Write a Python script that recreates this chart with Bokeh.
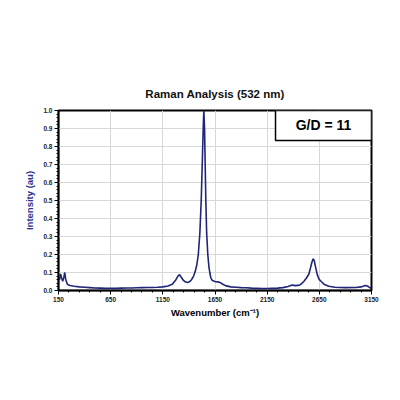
from bokeh.plotting import figure
from bokeh.models import FixedTicker, Range1d, Label, BoxAnnotation, ColumnDataSource, CustomJSTickFormatter
from bokeh.embed import file_html
from bokeh.resources import INLINE

# Raman spectrum (wavenumber cm^-1, normalised intensity)
wavenumber = [150, 160, 170, 180, 190, 200, 210, 220, 235, 260, 300, 350, 400, 450, 500,
              550, 600, 650, 700, 750, 800, 850, 900, 950, 1000, 1050, 1100, 1150, 1200,
              1240, 1270, 1295, 1310, 1325, 1345, 1365, 1385, 1405, 1425, 1445, 1460, 1475,
              1490, 1505, 1518, 1530, 1538, 1543, 1550, 1556, 1562, 1570, 1581, 1592, 1600,
              1610, 1625, 1650, 1675, 1700, 1725, 1750, 1800, 1850, 1900, 1950, 2000, 2050,
              2100, 2150, 2200, 2250, 2300, 2350, 2390, 2420, 2460, 2480, 2501, 2525, 2549,
              2565, 2580, 2591, 2600, 2612, 2630, 2648, 2668, 2700, 2740, 2800, 2900, 3000,
              3050, 3090, 3110, 3130, 3150]
intensity = [0.068, 0.06, 0.092, 0.07, 0.052, 0.07, 0.10, 0.06, 0.035, 0.028, 0.024, 0.02,
             0.018, 0.016, 0.014, 0.013, 0.012, 0.012, 0.012, 0.013, 0.014, 0.014, 0.015,
             0.016, 0.017, 0.017, 0.018, 0.02, 0.025, 0.035, 0.055, 0.08, 0.088, 0.075,
             0.058, 0.048, 0.044, 0.048, 0.06, 0.08, 0.105, 0.14, 0.2, 0.32, 0.5, 0.75, 0.92,
             1.0, 0.9, 0.7, 0.5, 0.32, 0.2, 0.13, 0.1, 0.07, 0.055, 0.05, 0.048, 0.044,
             0.035, 0.027, 0.02, 0.018, 0.016, 0.015, 0.013, 0.012, 0.011, 0.011, 0.012,
             0.013, 0.016, 0.022, 0.03, 0.027, 0.03, 0.038, 0.05, 0.068, 0.09, 0.125, 0.16,
             0.176, 0.168, 0.135, 0.088, 0.062, 0.05, 0.033, 0.024, 0.018, 0.016, 0.017,
             0.02, 0.028, 0.025, 0.017, 0.013]

x_ticks = [150, 650, 1150, 1650, 2150, 2650, 3150]
y_ticks = [0.0, 0.1, 0.2, 0.3, 0.4, 0.5, 0.6, 0.7, 0.8, 0.9, 1.0]
title_text = "Raman Analysis (532 nm)"
ratio_text = "G/D = 11"

FONT = "Liberation Sans"

p = figure(width=384, height=384, output_backend="svg", toolbar_location=None,
           min_border_left=58, min_border_right=13, min_border_top=110, min_border_bottom=94,
           x_range=Range1d(150, 3150), y_range=Range1d(0, 1.0), title=title_text)
p.background_fill_color = "white"
p.border_fill_color = "white"
p.outline_line_color = "black"
p.outline_line_width = 2

p.title.align = "center"
p.title.text_font = FONT
p.title.text_font_style = "bold"
p.title.text_font_size = "11.5px"
p.title.text_color = "#111111"
p.title.offset = 5
p.title.standoff = 22

src = ColumnDataSource(dict(x=wavenumber, y=intensity))
p.line("x", "y", source=src, line_color="#1f2577", line_width=1.6)

p.xaxis.ticker = FixedTicker(ticks=x_ticks, minor_ticks=list(range(150, 3151, 100)))
p.yaxis.ticker = FixedTicker(ticks=y_ticks, minor_ticks=[i / 50 for i in range(51)])
p.yaxis.formatter = CustomJSTickFormatter(code="return tick.toFixed(1);")

for ax in (p.xaxis, p.yaxis):
    ax.axis_line_color = "black"
    ax.axis_line_width = 1.5
    ax.major_tick_line_color = "black"
    ax.minor_tick_line_color = "black"
    ax.major_tick_out = 4
    ax.major_tick_in = 0
    ax.minor_tick_out = 2
    ax.minor_tick_in = 0
    ax.major_label_text_font = FONT
    ax.major_label_text_font_style = "bold"
    ax.major_label_text_font_size = "6.5px"
    ax.major_label_text_color = "#222222"
    ax.major_label_standoff = 2
    ax.axis_label_text_font = FONT
    ax.axis_label_text_font_style = "bold"
    ax.axis_label_text_font_size = "9.5px"

p.xaxis.axis_label = "Wavenumber (cm\u207b\u00b9)"
p.xaxis.axis_label_text_color = "black"
p.xaxis.axis_label_standoff = 2
p.yaxis.axis_label = "Intensity (au)"
p.yaxis.axis_label_text_color = "#2a3290"
p.yaxis.axis_label_standoff = 5

p.xgrid.grid_line_color = "#d8d8d8"
p.ygrid.grid_line_color = "#d8d8d8"
p.xgrid.grid_line_width = 1
p.ygrid.grid_line_width = 1

p.add_layout(BoxAnnotation(left=2230, right=3150, bottom=0.833, top=1.0,
                           fill_color="white", fill_alpha=1.0,
                           line_color="black", line_width=1.5, line_alpha=1.0))
p.add_layout(Label(x=2690, y=0.917, text=ratio_text, text_align="center",
                   text_baseline="middle", text_font=FONT, text_font_style="bold",
                   text_font_size="14px", text_color="black"))

open("out.html", "w").write(file_html(p, INLINE))
